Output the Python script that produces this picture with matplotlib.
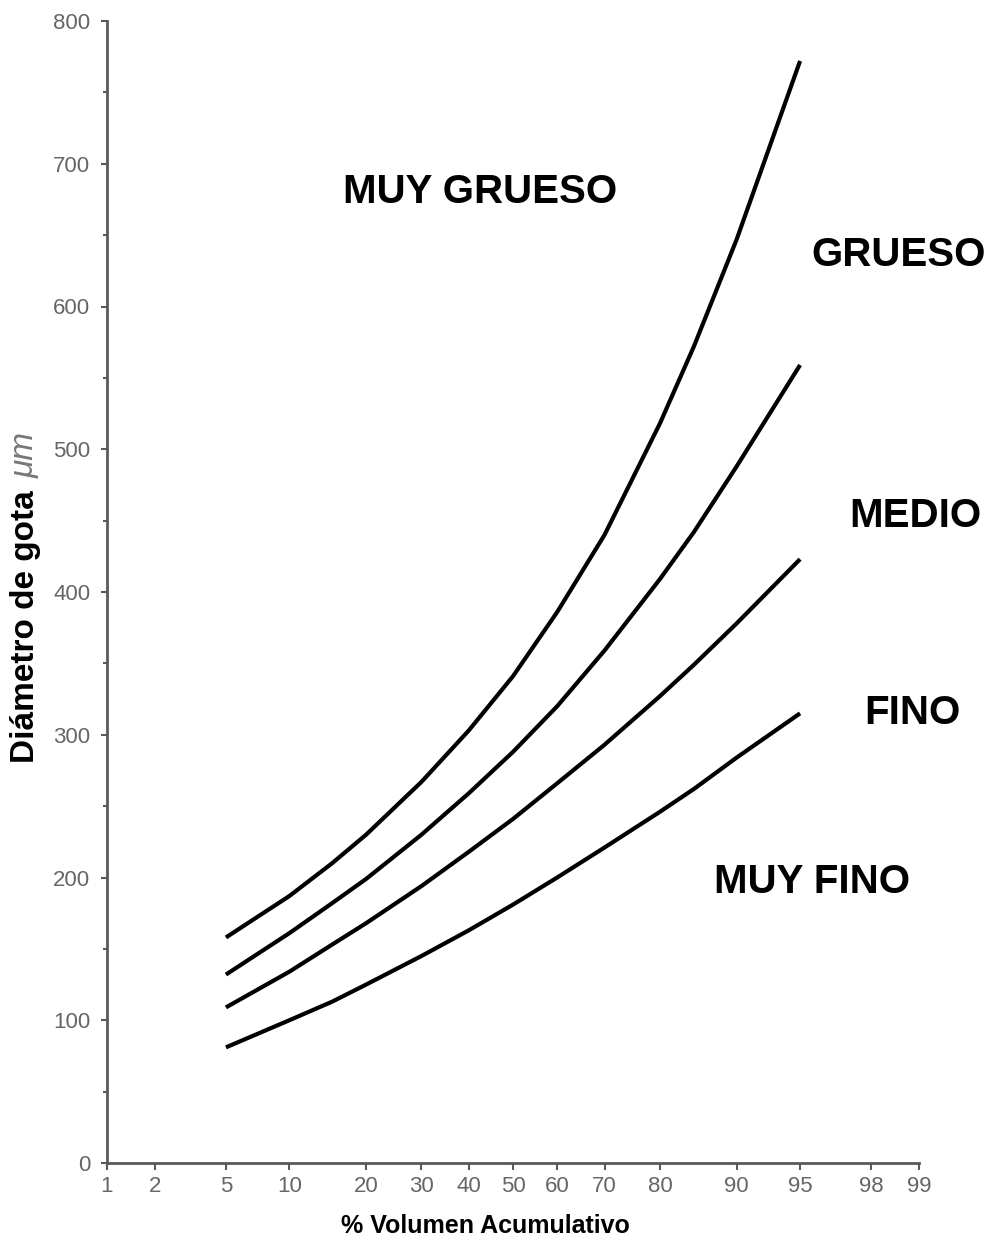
import numpy as np
import matplotlib
matplotlib.use("Agg")
import matplotlib.pyplot as plt
from statistics import NormalDist

# === DATOS ===
porcentaje = [5, 10, 15, 20, 30, 40, 50, 60, 70, 80, 85, 90, 95]
muy_grueso = [158, 187, 210, 230, 267, 303, 341, 386, 440, 518, 572, 647, 772]
grueso = [132, 161, 182, 199, 230, 259, 288, 320, 359, 409, 442, 488, 559]
medio = [109, 134, 153, 168, 194, 218, 241, 266, 293, 327, 349, 378, 423]
fino = [81, 100, 113, 125, 145, 163, 181, 200, 221, 246, 262, 284, 315]

ticks_x = [1, 2, 5, 10, 20, 30, 40, 50, 60, 70, 80, 90, 95, 98, 99]
ticks_y = [0, 100, 200, 300, 400, 500, 600, 700, 800]

etiquetas = ["MUY GRUESO", "GRUESO", "MEDIO", "FINO", "MUY FINO"]
# posiciones en pixeles de la figura (centro del texto)
pos_etiquetas = [(480, 192), (899, 255), (915, 516), (912, 713), (812, 882)]

_nd = NormalDist()
_ppf = np.vectorize(lambda v: _nd.inv_cdf(v / 100.0), otypes=[float])
_cdf = np.vectorize(lambda v: _nd.cdf(v) * 100.0, otypes=[float])


def probit(p):
    p = np.clip(np.asarray(p, dtype=float), 1e-6, 100 - 1e-6)
    return _ppf(p)


def probit_inv(z):
    return _cdf(np.asarray(z, dtype=float))


W, H = 992, 1241
fig = plt.figure(figsize=(W / 100, H / 100), dpi=100)
ax = fig.add_axes([107 / W, (H - 1163) / H, (919 - 107) / W, (1163 - 21) / H])

ax.set_xscale("function", functions=(probit, probit_inv))
ax.set_xlim(1, 99)
ax.set_ylim(0, 800)

for serie in [muy_grueso, grueso, medio, fino]:
    ax.plot(porcentaje, serie, color="black", lw=3.0, solid_capstyle="butt",
            solid_joinstyle="round")

gris = "#5a5a5a"
ax.spines["top"].set_visible(False)
ax.spines["right"].set_visible(False)
for s in ["left", "bottom"]:
    ax.spines[s].set_color(gris)
    ax.spines[s].set_linewidth(2)

fuente_ticks = ["Liberation Sans Narrow", "Liberation Sans", "DejaVu Sans"]
ax.set_xticks(ticks_x)
ax.set_xticklabels([str(t) for t in ticks_x], family=fuente_ticks, fontsize=16, color="#666666")
ax.set_yticks(ticks_y)
ax.set_yticklabels([str(t) for t in ticks_y], family=fuente_ticks, fontsize=16, color="#666666")
ax.set_yticks([50, 150, 250, 350, 450, 550, 650, 750], minor=True)
ax.xaxis.set_minor_locator(matplotlib.ticker.NullLocator())
ax.tick_params(axis="x", direction="out", length=5, width=1.5, color=gris, pad=4)
ax.tick_params(axis="y", which="major", direction="out", length=4, width=1.5, color=gris, pad=8)
ax.tick_params(axis="y", which="minor", direction="out", length=3, width=1.5, color=gris)

for texto, (px, py) in zip(etiquetas, pos_etiquetas):
    fig.text(px / W, 1 - py / H, texto, ha="center", va="center",
             fontsize=29, fontweight="bold", family="Liberation Sans")

fig.text(485 / W, 1 - 1226 / H, "% Volumen Acumulativo", ha="center", va="center",
         fontsize=18, fontweight="bold", family="Liberation Sans")
fig.text(26 / W, 1 - 627 / H, "Diámetro de gota", ha="center", va="center", rotation=90,
         fontsize=24, fontweight="bold", family="Liberation Sans")
fig.text(25 / W, 1 - 455 / H, "μm", ha="center", va="center", rotation=90,
         fontsize=24, style="italic", color="#777777", family="Liberation Sans")

fig.savefig("out.png", dpi=100, facecolor="white")
